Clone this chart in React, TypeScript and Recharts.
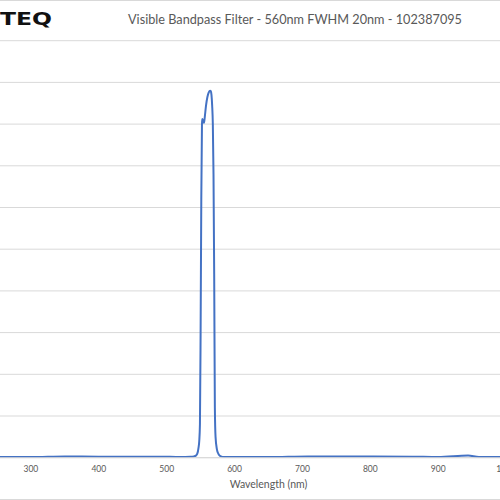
import React from 'react';
import { LineChart, Line, XAxis, YAxis, CartesianGrid } from 'recharts';

const wavelengths = [
  200, 250, 300, 350, 400, 440, 490, 520, 535, 540, 543, 545, 547, 548, 549, 550, 551, 552, 552.5,
  553.5, 555, 556, 558, 560, 562, 564, 565, 566, 567, 568, 569, 570, 571, 572, 574, 576, 579,
  585, 600, 650, 708, 751, 804, 862, 900, 944, 960, 1000, 1050, 1100,
];
const transmission = [
  0.15, 0.15, 0.15, 0.3, 0.25, 0.25, 0.25, 0.15, 0.2, 0.3, 0.5, 0.9, 2.5, 4, 8, 30, 62, 80, 81.2,
  80.7, 80.3, 81.5, 84.5, 86.5, 87.6, 88, 87.9, 87, 84.5, 80, 68, 44, 12, 5, 2, 1, 0.4,
  0.15, 0.15, 0.15, 0.3, 0.3, 0.3, 0.25, 0.15, 0.5, 0.15, 0.15, 0.15, 0.15,
];
const xTicks = [300, 400, 500, 600, 700, 800, 900, 1000];
const yTicks = [0, 10, 20, 30, 40, 50, 60, 70, 80, 90, 100];
const title = 'Visible Bandpass Filter - 560nm FWHM 20nm - 102387095';
const logo = 'TEQ';
const xLabel = 'Wavelength (nm)';

const data = wavelengths.map((w, i) => ({ w, t: transmission[i] }));

export default function App() {
  return (
    <div
      style={{
        position: 'absolute',
        left: 0,
        top: 0,
        width: 500,
        height: 500,
        overflow: 'hidden',
        background: '#ffffff',
      }}
    >
      <div style={{ position: 'absolute', left: -37, top: 0 }}>
        <LineChart
          width={611}
          height={500}
          data={data}
          margin={{ top: 40.7, right: 0, bottom: 0, left: 0 }}
        >
          <CartesianGrid horizontal vertical={false} stroke="#d9d9d9" strokeWidth={1} />
          <XAxis
            dataKey="w"
            type="number"
            domain={[200, 1100]}
            ticks={xTicks}
            height={42.3}
            tickLine={false}
            axisLine={{ stroke: '#d9d9d9' }}
            tick={{ fill: '#595959', fontSize: 8.5, fontFamily: 'Lato' }}
            interval={0}
            label={{
              value: xLabel,
              position: 'insideBottom',
              offset: 12,
              fill: '#595959',
              fontSize: 10.5,
              fontFamily: 'Lato',
            }}
          />
          <YAxis hide domain={[0, 100]} ticks={yTicks} />
          <Line
            type="monotone"
            dataKey="t"
            stroke="#4472C4"
            strokeWidth={2}
            dot={false}
            isAnimationActive={false}
          />
        </LineChart>
      </div>
      <svg
        width={500}
        height={500}
        style={{ position: 'absolute', left: 0, top: 0, pointerEvents: 'none' }}
      >
        <line x1={0} y1={0.5} x2={500} y2={0.5} stroke="#d9d9d9" />
        <line x1={0} y1={499.5} x2={500} y2={499.5} stroke="#d9d9d9" />
        <text
          x={295}
          y={23.5}
          textAnchor="middle"
          fill="#595959"
          fontSize={12.7}
          fontFamily="Lato"
        >
          {title}
        </text>
        <text
          x={0}
          y={25}
          fill="#111111"
          fontSize={18}
          fontWeight="bold"
          fontFamily="DejaVu Sans"
          textLength={52}
          lengthAdjust="spacingAndGlyphs"
        >
          {logo}
        </text>
      </svg>
    </div>
  );
}
